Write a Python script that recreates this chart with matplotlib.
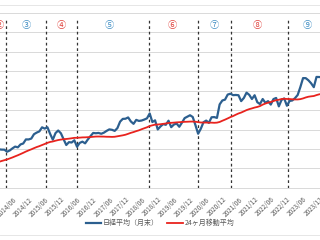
import numpy as np
import matplotlib
matplotlib.use('Agg')
import matplotlib.pyplot as plt

plt.rcParams['font.family'] = ['Noto Sans CJK JP', 'DejaVu Sans']

# month-end closes, 2014/01 .. 2023/12
nikkei = [
    14915, 14841, 14828, 14304, 14632, 15162, 15621, 15425, 16174, 16414, 17460, 17451,
    17674, 18798, 19207, 19520, 20563, 20236, 20585, 18890, 17388, 19083, 19747, 19034,
    17518, 16027, 16759, 16666, 17235, 15576, 16569, 16887, 16450, 17425, 18308, 19114,
    19041, 19119, 18909, 19197, 19651, 20033, 19925, 19646, 20356, 22012, 22725, 22765,
    23098, 22068, 21454, 22468, 22202, 22305, 22554, 22865, 24120, 21920, 22351, 20015,
    20773, 21385, 21206, 22259, 20601, 21276, 21522, 20704, 21756, 22927, 23294, 23657,
    23205, 21143, 18917, 20194, 21878, 22288, 21710, 23140, 23185, 22977, 26434, 27444,
    27663, 28966, 29179, 28813, 28860, 28792, 27284, 28090, 29453, 28893, 27822, 28792,
    27002, 26527, 27821, 26848, 27280, 26393, 27802, 28092, 25937, 27587, 27969, 26095,
    27327, 27446, 28041, 28856, 30888, 33189, 33172, 32619, 31858, 30859, 33487, 33464,
]

# 24-month moving average, 2014/01 .. 2023/12
ma24 = [
    11715, 11929, 12126, 12326, 12579, 12836, 13124, 13399, 13703, 14015, 14349, 14643,
    14915, 15217, 15501, 15736, 16019, 16292, 16581, 16810, 16932, 17130, 17300, 17415,
    17523, 17573, 17653, 17751, 17860, 17877, 17917, 17978, 17989, 18031, 18067, 18136,
    18193, 18206, 18194, 18180, 18142, 18134, 18106, 18138, 18261, 18384, 18508, 18663,
    18896, 19147, 19343, 19585, 19792, 20072, 20321, 20570, 20890, 21077, 21246, 21283,
    21355, 21450, 21546, 21673, 21713, 21765, 21831, 21875, 21934, 21972, 21995, 22033,
    22037, 21998, 21893, 21798, 21784, 21784, 21749, 21760, 21721, 21765, 21935, 22245,
    22532, 22848, 23180, 23453, 23797, 24110, 24350, 24658, 24979, 25227, 25416, 25630,
    25788, 26013, 26384, 26661, 26886, 27057, 27311, 27517, 27632, 27824, 27888, 27832,
    27818, 27754, 27707, 27709, 27793, 27976, 28222, 28410, 28511, 28593, 28829, 29023,
]

tick_labels = ['2014/06', '2014/12', '2015/06', '2015/12', '2016/06', '2016/12',
               '2017/06', '2017/12', '2018/06', '2018/12', '2019/06', '2019/12',
               '2020/06', '2020/12', '2021/06', '2021/12', '2022/06', '2022/12',
               '2023/06', '2023/12']

# period boundaries (month index from 2014/01) and period marks
boundaries = [2.5, 17.5, 29, 55.8, 74, 86.2, 107.4]
period_marks = ['②', '③', '④', '⑤', '⑥', '⑦', '⑧', '⑨']
period_pos = [0.0, 10.0, 23.0, 41.0, 64.5, 80.0, 96.0, 114.5]

RED = '#e0403a'
BLUE = '#3f8ec4'
mark_colors = [RED, BLUE, RED, BLUE, RED, BLUE, RED, BLUE]

months = np.arange(len(nikkei))

fig = plt.figure(figsize=(3.2, 2.4), dpi=100)
ax = fig.add_axes([0, 0.2167, 1, 0.731])

ax.plot(months, nikkei, color='#2c5f8f', lw=1.6, label='日経平均（月末）', zorder=3)
ax.plot(months, ma24, color='#e8231e', lw=1.3, label='24ヶ月移動平均', zorder=3)

for b in boundaries:
    ax.plot([b, b], [5000, 48600], color='#333333', lw=0.9,
            linestyle=(0, (2.2, 2.2)), zorder=2)

for m, p, c in zip(period_marks, period_pos, mark_colors):
    ax.text(p, 46700, m, color=c, fontsize=6.6, ha='center', va='center')

ax.set_xlim(0.37, 119.3)
ax.set_ylim(5000, 50000)
ax.set_yticks(np.arange(5000, 50001, 5000))
ax.yaxis.grid(True, color='#d9d9d9', lw=0.7)
ax.set_axisbelow(True)
ax.tick_params(left=False, labelleft=False, bottom=False)

tick_pos = [tick_labels.index(t) * 6 + 5 for t in tick_labels]
ax.set_xticks(tick_pos)
ax.set_xticklabels(tick_labels, rotation=45, ha='right', rotation_mode='anchor',
                   fontsize=4.6, color='#595959')
ax.tick_params(axis='x', pad=2)

for s in ['left', 'right', 'top']:
    ax.spines[s].set_visible(False)
ax.spines['bottom'].set_color('#d9d9d9')
ax.spines['bottom'].set_linewidth(0.7)

leg = fig.legend(loc='center', bbox_to_anchor=(0.5, 0.07), ncol=2, frameon=False,
                 fontsize=5, handlelength=2.2, columnspacing=1.2, handletextpad=0.3)
for t in leg.get_texts():
    t.set_color('#595959')

fig.add_artist(plt.Line2D([0, 1], [0.979, 0.979], color='#e6e6e6', lw=0.7))
fig.add_artist(plt.Line2D([0, 1], [0.021, 0.021], color='#e6e6e6', lw=0.7))

fig.savefig('out.png', dpi=100)
